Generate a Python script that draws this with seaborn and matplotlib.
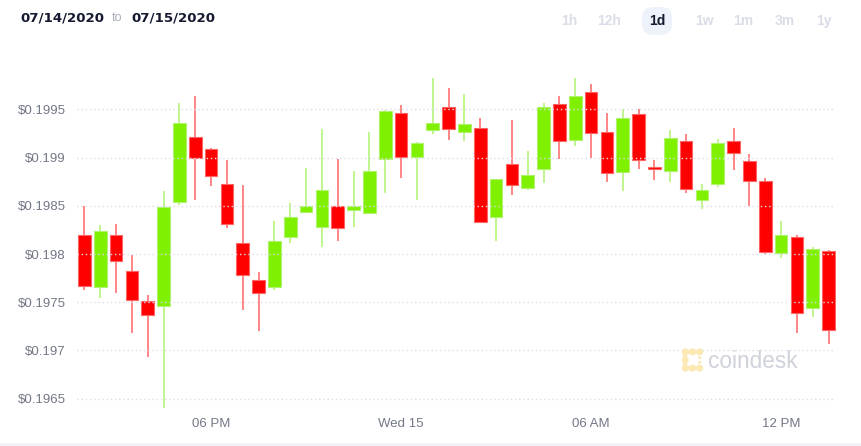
import pandas as pd
import numpy as np
import matplotlib.pyplot as plt
import seaborn as sns
from matplotlib.patches import Rectangle

# 30-minute candles, 07/14 14:00 -> 07/15 13:30
times = pd.date_range('2020-07-14 14:00', periods=48, freq='30min')
opens = [0.198200, 0.197658, 0.198200, 0.197824, 0.197516, 0.197458, 0.198542, 0.199216,
         0.199092, 0.198729, 0.198111, 0.197727, 0.197658, 0.198173, 0.198439, 0.198280,
         0.198498, 0.198460, 0.198428, 0.198981, 0.199458, 0.199002, 0.199282, 0.199520,
         0.199268, 0.199309, 0.198387, 0.198936, 0.198684, 0.198884, 0.199551, 0.199178,
         0.199679, 0.199265, 0.198850, 0.199455, 0.198898, 0.198860, 0.199168, 0.198560,
         0.198726, 0.199168, 0.198964, 0.198760, 0.198010, 0.198173, 0.197440, 0.198031]
closes = [0.197672, 0.198238, 0.197927, 0.197527, 0.197364, 0.198491, 0.199361, 0.198992,
          0.198808, 0.198314, 0.197779, 0.197599, 0.198131, 0.198380, 0.198501, 0.198660,
          0.198270, 0.198494, 0.198864, 0.199479, 0.199002, 0.199151, 0.199354, 0.199299,
          0.199351, 0.198335, 0.198774, 0.198715, 0.198822, 0.199527, 0.199171, 0.199641,
          0.199251, 0.198843, 0.199413, 0.198978, 0.198878, 0.199199, 0.198670, 0.198667,
          0.199154, 0.199043, 0.198753, 0.198017, 0.198193, 0.197388, 0.198048, 0.197212]
highs = [0.198494, 0.198297, 0.198307, 0.197986, 0.197575, 0.198650, 0.199565, 0.199638,
         0.199100, 0.198971, 0.198719, 0.197813, 0.198342, 0.198532, 0.198888, 0.199299,
         0.198981, 0.198864, 0.199268, 0.199489, 0.199544, 0.199160, 0.199821, 0.199724,
         0.199662, 0.199413, 0.198780, 0.199389, 0.199064, 0.199565, 0.199634, 0.199821,
         0.199766, 0.199461, 0.199506, 0.199506, 0.198974, 0.199289, 0.199240, 0.198722,
         0.199195, 0.199303, 0.199037, 0.198784, 0.198346, 0.198193, 0.198069, 0.198045]
lows = [0.197623, 0.197540, 0.197592, 0.197181, 0.196936, 0.196407, 0.198508, 0.198556,
        0.198705, 0.198269, 0.197423, 0.197202, 0.197627, 0.198114, 0.198430, 0.198073,
        0.198135, 0.198280, 0.198420, 0.198629, 0.198788, 0.198563, 0.199247, 0.199182,
        0.199168, 0.198330, 0.198131, 0.198612, 0.198663, 0.198739, 0.198985, 0.199116,
        0.198998, 0.198746, 0.198650, 0.198884, 0.198767, 0.198750, 0.198629, 0.198466,
        0.198691, 0.198867, 0.198501, 0.198003, 0.197962, 0.197181, 0.197347, 0.197067]

y_ticks = [0.1965, 0.197, 0.1975, 0.198, 0.1985, 0.199, 0.1995]
y_labels = ['$0.1965', '$0.197', '$0.1975', '$0.198', '$0.1985', '$0.199', '$0.1995']
x_labels = ['06 PM', 'Wed 15', '06 AM', '12 PM']
ranges = ['1h', '12h', '1d', '1w', '1m', '3m', '1y']

df = pd.DataFrame({'time': times, 'open': opens, 'close': closes, 'high': highs, 'low': lows})
df['idx'] = np.arange(len(df))
df['up'] = df['close'] >= df['open']

sns.set_theme(style='white')
plt.rcParams['font.family'] = ['Liberation Sans', 'DejaVu Sans']

W, H = 861, 446
fig = plt.figure(figsize=(W / 100, H / 100), dpi=100)
ax = fig.add_axes([77 / W, 1 - 415 / H, 759 / W, 360 / H])

green, red = '#7ff000', '#ff0000'
wick_green, wick_red = '#aef26e', '#ff6464'
for up, grp in df.groupby('up'):
    body = green if up else red
    wick = wick_green if up else wick_red
    ax.vlines(grp['idx'], grp['low'], grp['high'], color=wick, lw=1.1, zorder=1)
    bottom = grp[['open', 'close']].min(axis=1)
    height = (grp['close'] - grp['open']).abs().clip(lower=0.000015)
    ax.bar(grp['idx'], height, bottom=bottom, width=0.8, color=body,
           edgecolor=wick, linewidth=0.8, zorder=2)

for v in y_ticks:
    ax.axhline(v, color='#dcdcea', lw=1, ls=(0, (1, 2)), zorder=3)

ax.set_ylim(0.196331, 0.200063)
ax.set_xlim(-0.47, 47.47)
ax.set_yticks(y_ticks)
ax.set_yticklabels(y_labels)
tick_pos = df.loc[(df['time'].dt.minute == 0) & (df['time'].dt.hour % 6 == 0), 'idx']
ax.set_xticks(tick_pos)
ax.set_xticklabels(x_labels)
ax.tick_params(axis='y', length=0, pad=8, labelsize=9.5, labelcolor='#737886')
ax.tick_params(axis='x', length=0, pad=2, labelsize=9.5, labelcolor='#737886')
sns.despine(ax=ax, left=True, bottom=True)
ax.grid(False)

# watermark
ax.text(0.831, 0.15, 'coindesk', transform=ax.transAxes, fontsize=16.3,
        color='#cfd2da', va='center', ha='left', zorder=0)
logo = fig.add_axes([681 / W, 1 - 373 / H, 23 / W, 26 / H])
lx = [0, 1, 2, 0, 0, 1, 2, 2, 2]
ly = [2, 2, 2, 1, 0, 0, 0, 1.3, 0.7]
logo.scatter(lx, ly, s=[26, 26, 26, 26, 26, 26, 26, 5, 5], marker='o', color='#fde9b4', lw=0)
logo.plot([0, 2], [2, 2], color='#fde9b4', lw=3, solid_capstyle='round')
logo.plot([0, 2], [0, 0], color='#fde9b4', lw=3, solid_capstyle='round')
logo.plot([0, 0], [0, 2], color='#fde9b4', lw=3, solid_capstyle='round')
logo.set_xlim(-0.6, 2.6)
logo.set_ylim(-0.6, 2.6)
logo.axis('off')

# header
ty = 1 - 18 / H
fig.text(20 / W, ty, '07/14/2020', family='DejaVu Sans', weight='bold', fontsize=9.6,
         color='#151a30', va='center')
fig.text(112 / W, ty, 'to', fontsize=9, color='#a9adb8', va='center')
fig.text(131 / W, ty, '07/15/2020', family='DejaVu Sans', weight='bold', fontsize=9.6,
         color='#151a30', va='center')
range_x = [569, 609, 657, 704, 743, 785, 824]
for lab, px in zip(ranges, range_x):
    if lab == '1d':
        fig.text(px / W, 1 - 21 / H, lab, fontsize=10, weight='bold', color='#151a30',
                 ha='center', va='center',
                 bbox=dict(boxstyle='round,pad=0.5,rounding_size=0.8', fc='#eef2fa', ec='none'))
    else:
        fig.text(px / W, 1 - 21 / H, lab, fontsize=10, weight='bold', color='#dadde7',
                 ha='center', va='center')

fig.add_artist(Rectangle((0, 0), 1, 3 / H, transform=fig.transFigure,
                         color='#f3f4f8', lw=0))

fig.savefig('out.png', dpi=100)
